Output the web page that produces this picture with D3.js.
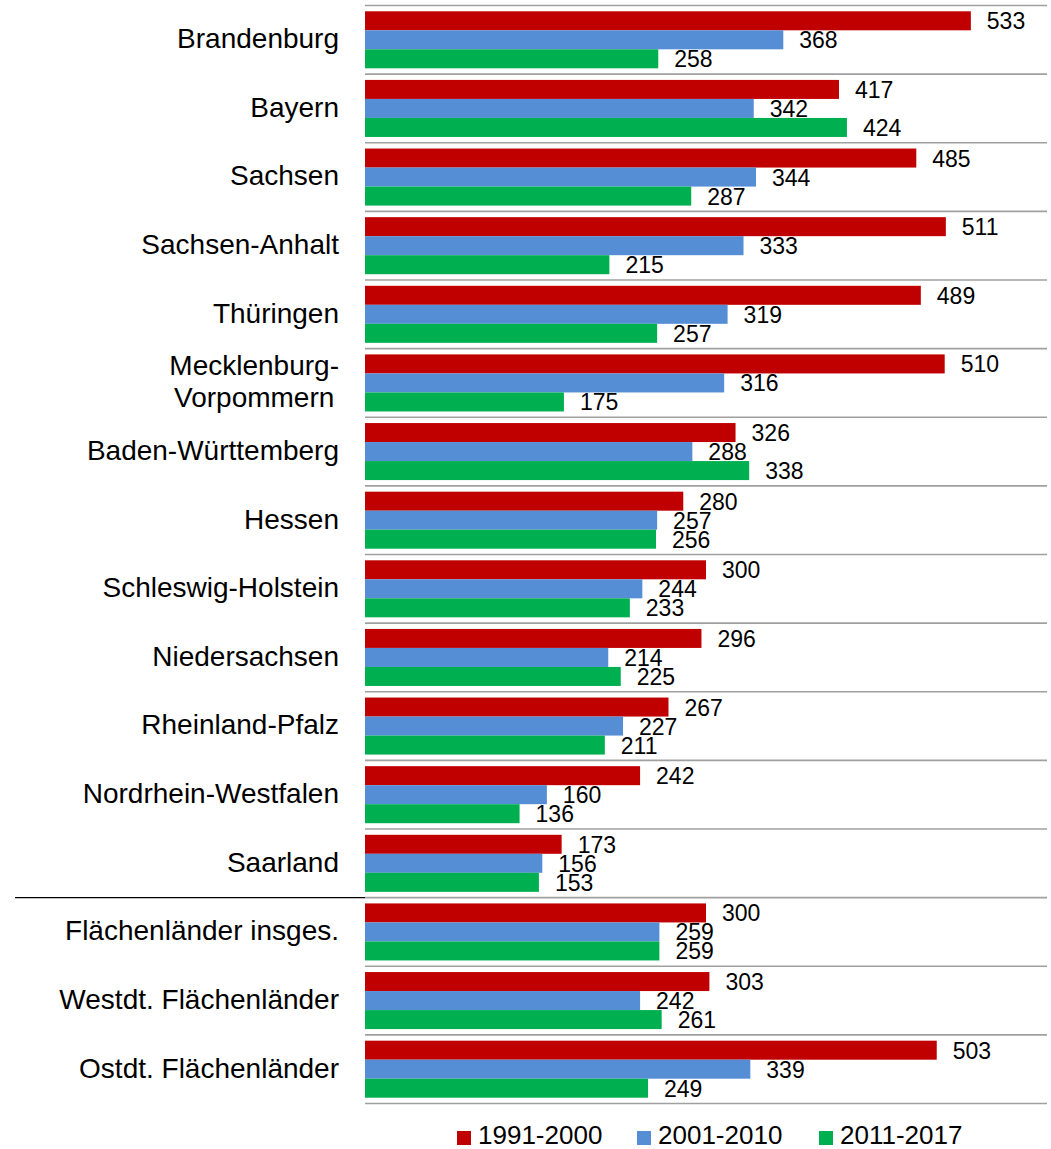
<!DOCTYPE html>
<html>
<head>
<meta charset="utf-8">
<script src="https://cdn.jsdelivr.net/npm/d3@7"></script>
<style>
  body { margin: 0; background: #fff; }
  svg { display: block; font-family: "Liberation Sans", Arial, sans-serif; }
</style>
</head>
<body>
<div id="root"></div>
<script>
var categories = ["Brandenburg", "Bayern", "Sachsen", "Sachsen-Anhalt", "Thüringen",
    "Mecklenburg-Vorpommern", "Baden-Württemberg", "Hessen", "Schleswig-Holstein",
    "Niedersachsen", "Rheinland-Pfalz", "Nordrhein-Westfalen", "Saarland",
    "Flächenländer insges.", "Westdt. Flächenländer", "Ostdt. Flächenländer"];
var seriesNames = ["1991-2000", "2001-2010", "2011-2017"];
var values1991 = [533, 417, 485, 511, 489, 510, 326, 280, 300, 296, 267, 242, 173, 300, 303, 503];
var values2001 = [368, 342, 344, 333, 319, 316, 288, 257, 244, 214, 227, 160, 156, 259, 242, 339];
var values2011 = [258, 424, 287, 215, 257, 175, 338, 256, 233, 225, 211, 136, 153, 259, 261, 249];
var colors = ["#c00000", "#558ed5", "#00b050"];
// label lines (Mecklenburg-Vorpommern wraps in the original)
var labelLines = {"Mecklenburg-Vorpommern": ["Mecklenburg-", "Vorpommern"]};

var width = 1051, height = 1149;
var svg = d3.select("#root").append("svg")
    .attr("width", width)
    .attr("height", height);

var x = d3.scaleLinear().domain([0, 600]).range([365, 1047]);
var y = d3.scaleBand().domain(categories).range([5.5, 1103.5])
    .paddingInner(0.169).paddingOuter(0.0845);
var ys = d3.scaleBand().domain(seriesNames).range([0, y.bandwidth()]);

var series = [values1991, values2001, values2011];
var rows = categories.map(function(c, i) {
    return {cat: c, vals: series.map(function(s, j) { return {name: seriesNames[j], v: s[i], k: j}; })};
});

// separator lines between groups
var gap = (y.step() - y.bandwidth()) / 2;
var bounds = categories.map(function(c) { return y(c) - gap; });
bounds.push(y(categories[categories.length - 1]) + y.bandwidth() + gap);
svg.append("g").selectAll("line")
    .data(bounds)
    .enter().append("line")
    .attr("x1", x(0)).attr("x2", x(600))
    .attr("y1", function(d) { return d; })
    .attr("y2", function(d) { return d; })
    .attr("stroke", "#a0a0a0")
    .attr("stroke-width", 1.6);

// black line between Saarland and aggregates
var sepY = y("Flächenländer insges.") - gap;
svg.append("line")
    .attr("x1", 15).attr("x2", x(0))
    .attr("y1", sepY).attr("y2", sepY)
    .attr("stroke", "#000")
    .attr("stroke-width", 1.3);

var groups = svg.append("g").selectAll("g")
    .data(rows)
    .enter().append("g")
    .attr("transform", function(d) { return "translate(0," + y(d.cat) + ")"; });

groups.selectAll("rect")
    .data(function(d) { return d.vals; })
    .enter().append("rect")
    .attr("x", x(0))
    .attr("y", function(d) { return ys(d.name); })
    .attr("width", function(d) { return x(d.v) - x(0); })
    .attr("height", ys.bandwidth())
    .attr("fill", function(d) { return colors[d.k]; });

groups.selectAll("text.val")
    .data(function(d) { return d.vals; })
    .enter().append("text")
    .attr("class", "val")
    .attr("x", function(d) { return x(d.v) + 16; })
    .attr("y", function(d) { return ys(d.name) + ys.bandwidth() / 2; })
    .attr("dy", "0.37em")
    .attr("font-size", 23)
    .attr("fill", "#000")
    .text(function(d) { return d.v; });

// category labels
var labelX = 339;
groups.each(function(d) {
    var g = d3.select(this);
    var cy = y.bandwidth() / 2;
    var lines = labelLines[d.cat];
    if (!lines) {
        g.append("text")
            .attr("x", labelX)
            .attr("y", cy)
            .attr("dy", "0.3em")
            .attr("text-anchor", "end")
            .attr("font-size", 28)
            .text(d.cat);
    } else {
        var lh = 32;
        var t = g.append("text")
            .attr("text-anchor", "middle")
            .attr("font-size", 28);
        var spans = lines.map(function(l, i) {
            return t.append("tspan")
                .attr("y", cy + (i - (lines.length - 1) / 2) * lh)
                .attr("dy", "0.3em")
                .text(l);
        });
        var w = d3.max(spans, function(s) { return s.node().getComputedTextLength(); });
        spans.forEach(function(s) { s.attr("x", labelX - w / 2); });
    }
});

// legend
var legendX = [457, 637, 819];
var legend = svg.append("g").selectAll("g")
    .data(seriesNames)
    .enter().append("g")
    .attr("transform", function(d, i) { return "translate(" + legendX[i] + ",1131)"; });
legend.append("rect")
    .attr("width", 14).attr("height", 14)
    .attr("fill", function(d, i) { return colors[i]; });
legend.append("text")
    .attr("x", 21)
    .attr("y", 13)
    .attr("font-size", 26)
    .text(function(d) { return d; });
</script>
</body>
</html>
